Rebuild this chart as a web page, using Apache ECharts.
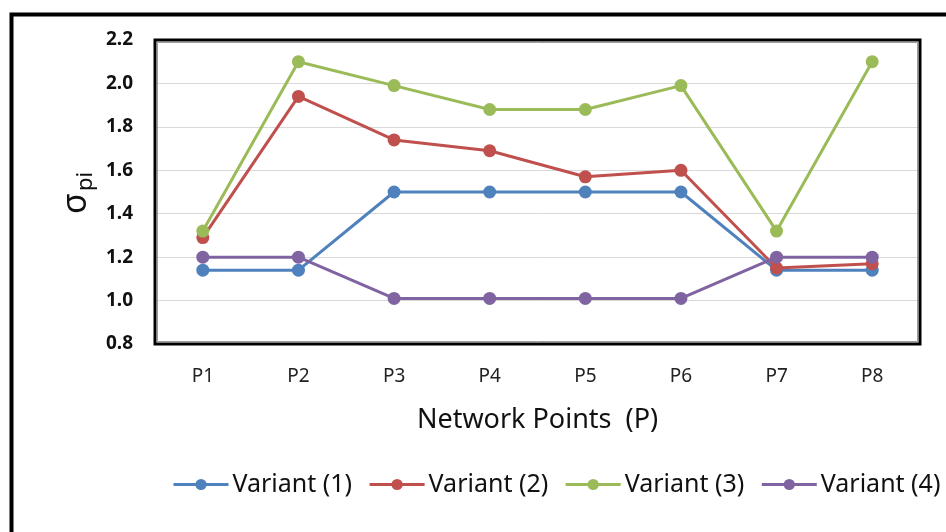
<!DOCTYPE html>
<html>
<head>
<meta charset="utf-8">
<script src="https://cdn.jsdelivr.net/npm/echarts@6/dist/echarts.min.js"></script>
<style>html,body{margin:0;padding:0;background:#fff;}#c{width:946px;height:532px;}</style>
</head>
<body>
<div id="c"></div>
<script>
const categories = ['P1','P2','P3','P4','P5','P6','P7','P8'];
const variant1 = [1.14, 1.14, 1.50, 1.50, 1.50, 1.50, 1.14, 1.14];
const variant2 = [1.29, 1.94, 1.74, 1.69, 1.57, 1.60, 1.15, 1.17];
const variant3 = [1.32, 2.10, 1.99, 1.88, 1.88, 1.99, 1.32, 2.10];
const variant4 = [1.20, 1.20, 1.01, 1.01, 1.01, 1.01, 1.20, 1.20];
const seriesNames = ['Variant (1)','Variant (2)','Variant (3)','Variant (4)'];
const colors = ['#4F81BD','#C0504D','#9BBB59','#8064A2'];

const chart = echarts.init(document.getElementById('c'), null, {renderer:'canvas'});
const font = '"Noto Sans", "Open Sans", sans-serif';
function mk(name, data, color){
  return {
    name: name, type: 'line', data: data,
    symbol: 'circle', symbolSize: 13,
    lineStyle: {color: color, width: 3},
    itemStyle: {color: color},
    emphasis: {disabled: true}
  };
}
chart.setOption({
  animation: false,
  color: colors,
  textStyle: {fontFamily: font},
  grid: {left: 155, top: 40, right: 26, bottom: 188},
  xAxis: {
    type: 'category', data: categories, boundaryGap: true,
    axisLine: {show: false}, axisTick: {show: false},
    axisLabel: {color: '#222', fontSize: 19, margin: 23, fontFamily: font},
    name: 'Network Points  (P)', nameLocation: 'middle', nameGap: 63,
    nameTextStyle: {color: '#111', fontSize: 27, fontFamily: font}
  },
  yAxis: {
    type: 'value', min: 0.8, max: 2.2, interval: 0.2,
    axisLine: {show: false}, axisTick: {show: false},
    splitLine: {lineStyle: {color: '#D9D9D9', width: 1}},
    axisLabel: {color: '#111', fontSize: 19, fontWeight: 'bold', margin: 22, fontFamily: font,
      formatter: v => v.toFixed(1)}
  },
  legend: {
    data: seriesNames, bottom: 35, left: 172, width: 900, padding: 0,
    itemWidth: 55, itemHeight: 14, itemGap: 16,
    lineStyle: {width: 3},
    textStyle: {color: '#111', fontSize: 25, fontFamily: font, padding: [0,0,0,-1]}
  },
  graphic: [
    {type: 'rect', left: 9, top: 12, shape: {width: 1000, height: 600}, style: {fill: 'none', stroke: '#000', lineWidth: 4}, silent: true, z: 100},
    {type: 'rect', x: 155, y: 40, shape: {width: 765, height: 304}, style: {fill: 'none', stroke: '#000', lineWidth: 3}, silent: true, z: 100},
    {type: 'rect', x: 157.5, y: 42.5, shape: {width: 760, height: 299}, style: {fill: 'none', stroke: '#9a9a9a', lineWidth: 1}, silent: true, z: 99},
    {type: 'group', x: 76, y: 214, rotation: Math.PI/2, children: [
      {type: 'text', x: 0, y: 0, style: {text: 'σ', fontSize: 34, fontFamily: font, fill: '#111', align: 'left', verticalAlign: 'middle'}},
      {type: 'text', x: 23, y: 10, style: {text: 'pi', fontSize: 22, fontFamily: font, fill: '#111', align: 'left', verticalAlign: 'middle'}}
    ]}
  ],
  series: [
    mk(seriesNames[0], variant1, colors[0]),
    mk(seriesNames[1], variant2, colors[1]),
    mk(seriesNames[2], variant3, colors[2]),
    mk(seriesNames[3], variant4, colors[3])
  ]
});
</script>
</body>
</html>
